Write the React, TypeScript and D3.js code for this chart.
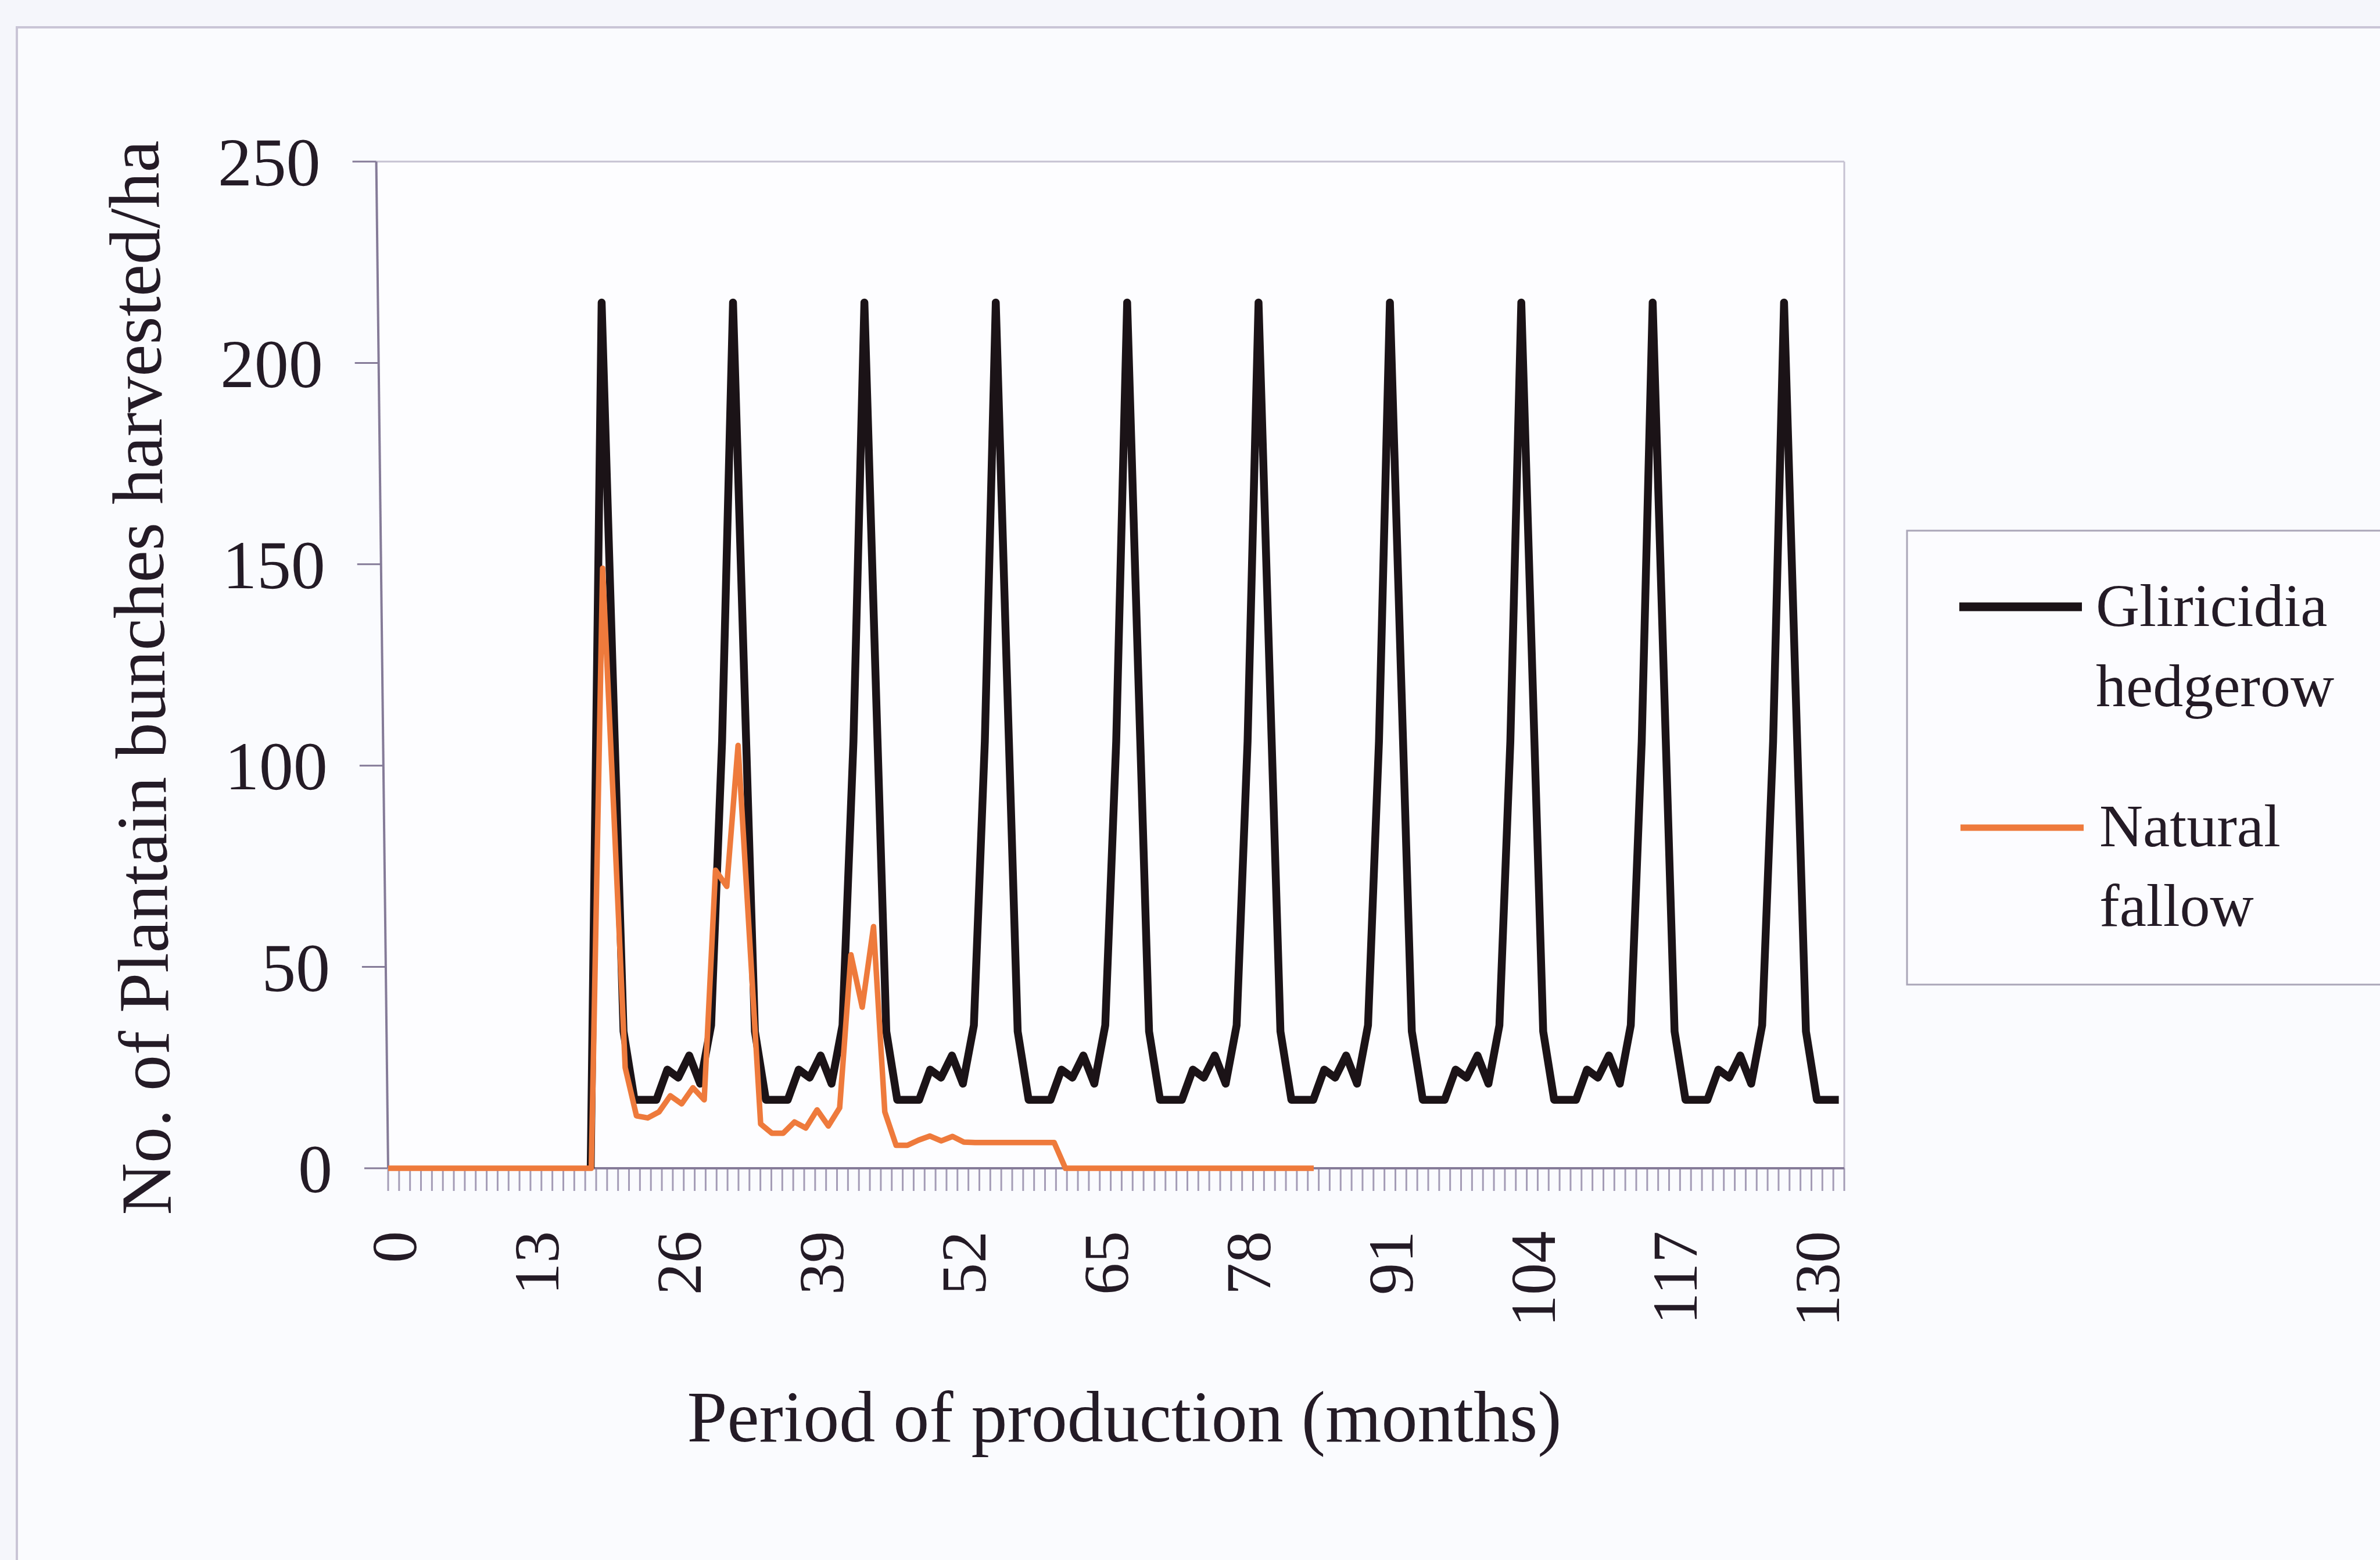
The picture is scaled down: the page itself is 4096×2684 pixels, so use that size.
import React from "react";
import * as d3 from "d3";

// Months on the category axis (0..132)
const months: number[] = d3.range(0, 133);

// Plantain bunches harvested per ha, Gliricidia hedgerow system (blank before month 18)
const gliricidiaHedgerow: (number | null)[] = [
  null, null, null, null, null, null, null, null, null, null, null, null, null, null, null, null, null, null,
  0, 215,
  124, 34, 17, 17, 17, 24.5, 22.5, 28, 21, 35.5, 106, 215,
  124, 34, 17, 17, 17, 24.5, 22.5, 28, 21, 35.5, 106, 215,
  124, 34, 17, 17, 17, 24.5, 22.5, 28, 21, 35.5, 106, 215,
  124, 34, 17, 17, 17, 24.5, 22.5, 28, 21, 35.5, 106, 215,
  124, 34, 17, 17, 17, 24.5, 22.5, 28, 21, 35.5, 106, 215,
  124, 34, 17, 17, 17, 24.5, 22.5, 28, 21, 35.5, 106, 215,
  124, 34, 17, 17, 17, 24.5, 22.5, 28, 21, 35.5, 106, 215,
  124, 34, 17, 17, 17, 24.5, 22.5, 28, 21, 35.5, 106, 215,
  124, 34, 17, 17, 17, 24.5, 22.5, 28, 21, 35.5, 106, 215,
  124, 34, 17, 17, 17,
];

// Natural fallow system, plotted against its own month axis (0..129)
const naturalFallow: number[] = [
  0, 0, 0, 0, 0, 0, 0, 0, 0, 0, 0, 0, 0, 0, 0, 0, 0, 0, 0,
  149, 88, 25, 13, 12.5, 14, 18, 16, 20, 17,
  74, 70, 105, 58, 11, 8.7, 8.7, 11.5, 10, 14.5, 10.5, 15,
  53, 40, 60, 14, 5.7, 5.7, 7, 8, 6.8, 7.9, 6.5,
  6.4, 6.4, 6.4, 6.4, 6.4, 6.4, 6.4, 6.4,
  0, 0, 0, 0, 0, 0, 0, 0, 0, 0, 0, 0, 0, 0, 0, 0, 0, 0, 0, 0, 0, 0, 0,
];
const fallowAxisMax = 129;

const xTickLabels: number[] = [0, 13, 26, 39, 52, 65, 78, 91, 104, 117, 130];
const yTicks: number[] = [0, 50, 100, 150, 200, 250];

const seriesNames = {
  hedgerow: ["Gliricidia", "hedgerow"],
  fallow: ["Natural", "fallow"],
};

const W = 4096;
const H = 2684;
const FONT = "'Liberation Serif', 'Times New Roman', serif";
const INK = "#241b26";
const BLACK_LINE = "#1b1317";
const ORANGE_LINE = "#ee7a3c";
const AXIS = "#857b98";

const plot = { left: 668, right: 3174, top: 278, bottom: 2010 };
// the value axis leans slightly: its top sits this far left of its foot
const lean = 0.0118;

export default function App() {
  const x = d3
    .scalePoint<number>()
    .domain(months)
    .range([plot.left, plot.right])
    .padding(0.5);
  const xFallow = d3
    .scaleLinear()
    .domain([0, fallowAxisMax])
    .range([plot.left, plot.right]);
  const y = d3.scaleLinear().domain([0, 250]).range([plot.bottom, plot.top]);

  const step = x.step();
  const catTicks = d3.range(0, months.length + 1).map((j) => plot.left + j * step);

  const hedgerowPath =
    d3
      .line<number | null>()
      .defined((d) => d !== null)
      .x((_, i) => x(months[i]) as number)
      .y((d) => y(d as number))(gliricidiaHedgerow) || "";

  const fallowPath =
    d3
      .line<number>()
      .x((_, i) => xFallow(i))
      .y((d) => y(d))(naturalFallow) || "";

  const skewDeg = (Math.atan(lean) * 180) / Math.PI;
  const leftSkew = `translate(0,${plot.bottom}) skewX(${skewDeg}) translate(0,${-plot.bottom})`;
  const topLeftX = plot.left - lean * (plot.bottom - plot.top);

  return (
    <svg
      width={W}
      height={H}
      viewBox={`0 0 ${W} ${H}`}
      style={{ position: "absolute", left: 0, top: 0, display: "block" }}
    >
      <rect x={0} y={0} width={W} height={H} fill="#f5f6fb" />
      {/* chart frame, runs past the right and bottom edges */}
      <rect x={29} y={47} width={4300} height={2900} fill="#fafbfe" stroke="#c9c5d6" strokeWidth={4} />

      {/* plot area */}
      <polygon
        points={`${topLeftX},${plot.top} ${plot.right},${plot.top} ${plot.right},${plot.bottom} ${plot.left},${plot.bottom}`}
        fill="#fdfdff"
      />
      <line x1={topLeftX} x2={plot.right} y1={plot.top} y2={plot.top} stroke="#c6c2d2" strokeWidth={3} />
      <line x1={plot.right} x2={plot.right} y1={plot.top} y2={plot.bottom} stroke="#c6c2d2" strokeWidth={3} />

      {/* y axis */}
      <g transform={leftSkew}>
        <line x1={plot.left} x2={plot.left} y1={plot.top} y2={plot.bottom} stroke={AXIS} strokeWidth={4} />
        {yTicks.map((t) => (
          <g key={`yt${t}`}>
            <line x1={plot.left - 41} x2={plot.left} y1={y(t)} y2={y(t)} stroke={AXIS} strokeWidth={3} />
            <text
              x={572}
              y={y(t)}
              dy="0.35em"
              textAnchor="end"
              fontFamily={FONT}
              fontSize={118}
              fill={INK}
            >
              {t}
            </text>
          </g>
        ))}
        <text
          transform={`translate(${293},${1166}) rotate(-90)`}
          textAnchor="middle"
          fontFamily={FONT}
          fontSize={124}
          fill={INK}
        >
          No. of Plantain bunches harvested/ha
        </text>
      </g>

      {/* x axis */}
      {catTicks.map((tx, j) => (
        <line key={`xt${j}`} x1={tx} x2={tx} y1={plot.bottom} y2={plot.bottom + 39} stroke="#a49cb6" strokeWidth={3} />
      ))}
      <line x1={plot.left} x2={plot.right} y1={plot.bottom} y2={plot.bottom} stroke={AXIS} strokeWidth={4} />
      {xTickLabels.map((m) => (
        <text
          key={`xl${m}`}
          transform={`translate(${x(m)},${2118}) rotate(-90)`}
          dy="0.35em"
          textAnchor="end"
          fontFamily={FONT}
          fontSize={110}
          fill={INK}
        >
          {m}
        </text>
      ))}

      {/* series */}
      <path d={hedgerowPath} fill="none" stroke={BLACK_LINE} strokeWidth={13.5} strokeLinejoin="round" />
      <path d={fallowPath} fill="none" stroke={ORANGE_LINE} strokeWidth={9.5} strokeLinejoin="round" />

      {/* x axis title */}
      <text x={1935} y={2480} textAnchor="middle" fontFamily={FONT} fontSize={124} fill={INK}>
        Period of production (months)
      </text>

      {/* legend */}
      <rect x={3282} y={913} width={1000} height={781} fill="#fcfcff" stroke="#aaa6b8" strokeWidth={3} />
      <line x1={3372} x2={3583} y1={1044} y2={1044} stroke={BLACK_LINE} strokeWidth={15} />
      <line x1={3374} x2={3586} y1={1424} y2={1424} stroke={ORANGE_LINE} strokeWidth={11} />
      <text fontFamily={FONT} fontSize={104} fill={INK}>
        <tspan x={3607} y={1077}>{seriesNames.hedgerow[0]}</tspan>
        <tspan x={3607} y={1215}>{seriesNames.hedgerow[1]}</tspan>
      </text>
      <text fontFamily={FONT} fontSize={104} fill={INK}>
        <tspan x={3613} y={1456}>{seriesNames.fallow[0]}</tspan>
        <tspan x={3613} y={1593}>{seriesNames.fallow[1]}</tspan>
      </text>
    </svg>
  );
}
